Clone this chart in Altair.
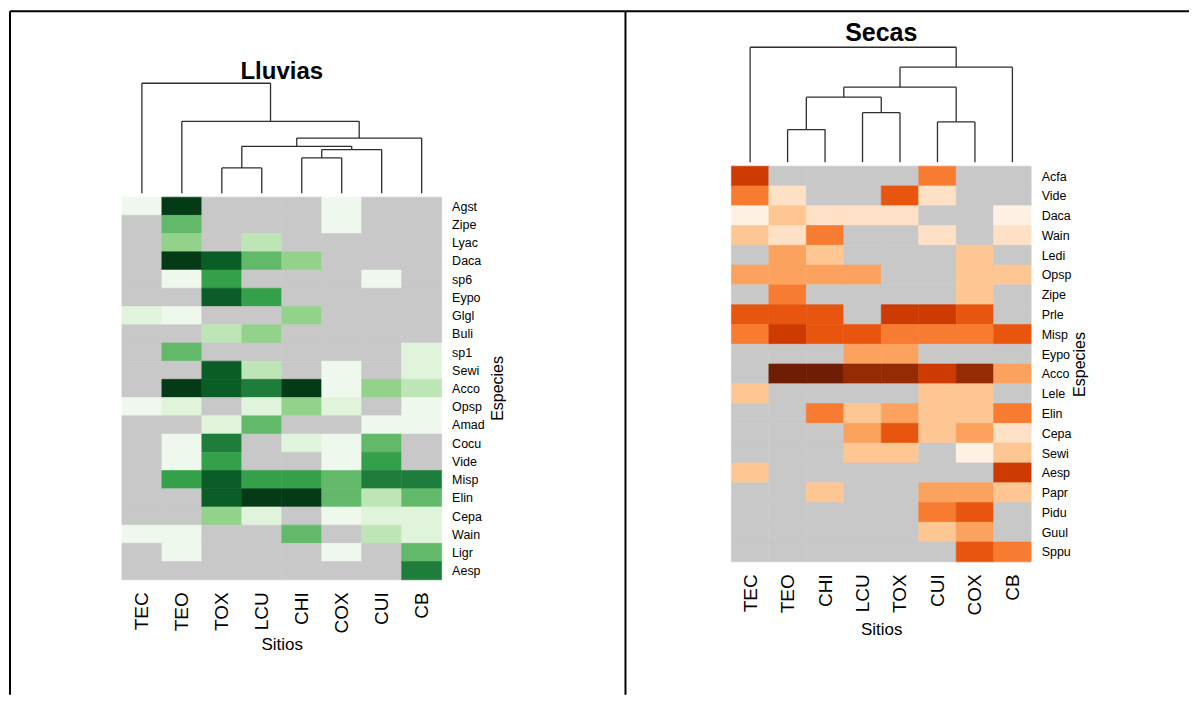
import json
import altair as alt
import pandas as pd

# ---------------- Lluvias (rainy season) ----------------
ll_sites = ["TEC", "TEO", "TOX", "LCU", "CHI", "COX", "CUI", "CB"]
ll_species = ["Agst", "Zipe", "Lyac", "Daca", "sp6", "Eypo", "Glgl", "Buli", "sp1", "Sewi",
              "Acco", "Opsp", "Amad", "Cocu", "Vide", "Misp", "Elin", "Cepa", "Wain", "Ligr", "Aesp"]
ll_TEC = [1, 0, 0, 0, 0, 0, 2, 0, 0, 0, 0, 1, 0, 0, 0, 0, 0, 0, 1, 0, 0]
ll_TEO = [9, 5, 4, 9, 1, 0, 1, 0, 5, 0, 9, 2, 0, 1, 1, 6, 0, 0, 1, 1, 0]
ll_TOX = [0, 0, 0, 8, 6, 8, 0, 3, 0, 8, 8, 0, 2, 7, 6, 8, 8, 4, 0, 0, 0]
ll_LCU = [0, 0, 3, 5, 0, 6, 0, 4, 0, 3, 7, 2, 5, 0, 0, 6, 9, 2, 0, 0, 0]
ll_CHI = [0, 0, 0, 4, 0, 0, 4, 0, 0, 0, 9, 4, 0, 2, 0, 6, 9, 0, 5, 0, 0]
ll_COX = [1, 1, 0, 0, 0, 0, 0, 0, 0, 1, 1, 2, 0, 1, 1, 5, 5, 1, 0, 1, 0]
ll_CUI = [0, 0, 0, 0, 1, 0, 0, 0, 0, 0, 4, 0, 1, 5, 6, 7, 3, 2, 3, 0, 0]
ll_CB = [0, 0, 0, 0, 0, 0, 0, 0, 2, 2, 3, 1, 1, 0, 0, 7, 5, 2, 2, 5, 7]
# dendrogram merges (leaf ids 0-7 in display order, internal nodes 8+)
ll_merge_a = [2, 4, 9, 8, 11, 1, 0]
ll_merge_b = [3, 5, 6, 10, 7, 12, 13]
ll_merge_h = [0.229, 0.320, 0.396, 0.426, 0.501, 0.653, 1.0]

# ---------------- Secas (dry season) ----------------
se_sites = ["TEC", "TEO", "CHI", "LCU", "TOX", "CUI", "COX", "CB"]
se_species = ["Acfa", "Vide", "Daca", "Wain", "Ledi", "Opsp", "Zipe", "Prle", "Misp", "Eypo",
              "Acco", "Lele", "Elin", "Cepa", "Sewi", "Aesp", "Papr", "Pidu", "Guul", "Sppu"]
se_TEC = [7, 5, 1, 3, 0, 4, 0, 6, 5, 0, 0, 3, 0, 0, 0, 3, 0, 0, 0, 0]
se_TEO = [0, 2, 3, 2, 4, 4, 5, 6, 7, 0, 9, 0, 0, 0, 0, 0, 0, 0, 0, 0]
se_CHI = [0, 0, 2, 5, 3, 4, 0, 6, 6, 0, 9, 0, 5, 0, 0, 0, 3, 0, 0, 0]
se_LCU = [0, 0, 2, 0, 0, 4, 0, 0, 6, 4, 8, 0, 3, 4, 3, 0, 0, 0, 0, 0]
se_TOX = [0, 6, 2, 0, 0, 0, 0, 7, 5, 4, 8, 0, 4, 6, 3, 0, 0, 0, 0, 0]
se_CUI = [5, 2, 0, 2, 0, 0, 0, 7, 5, 0, 7, 3, 3, 3, 0, 0, 4, 5, 3, 0]
se_COX = [0, 0, 0, 0, 3, 3, 3, 6, 5, 0, 8, 3, 3, 4, 1, 0, 4, 6, 4, 6]
se_CB = [0, 0, 1, 2, 0, 3, 0, 0, 6, 0, 4, 0, 5, 2, 3, 7, 3, 0, 0, 5]
se_merge_a = [1, 3, 5, 8, 11, 12, 0]
se_merge_b = [2, 4, 6, 9, 10, 7, 13]
se_merge_h = [0.284, 0.431, 0.350, 0.566, 0.653, 0.827, 1.0]

GRAY = "#c8c8c8"
greens = [GRAY, "#eff8ec", "#e0f3db", "#bde5b5", "#93d28b", "#62b96a",
          "#35a04a", "#1e7d3a", "#0b5d27", "#043a15"]
oranges = [GRAY, "#fef1e4", "#fde0c5", "#fdc692", "#fca25f", "#f77b31",
           "#e8550f", "#cd3b03", "#952b04", "#6f1d05"]

NOVIEW = alt.ViewBackground(stroke="transparent", strokeWidth=0)


def heat_df(sites, species, cols, key):
    rows = []
    for j, s in enumerate(sites):
        for i, sp in enumerate(species):
            rows.append({"site": s, "species": sp, "x": j, "x2": j + 1,
                         "y": i, "y2": i + 1, key: cols[j][i]})
    return pd.DataFrame(rows)


def dendro_df(ma, mb, mh, n):
    xpos = {i: i + 0.5 for i in range(n)}
    hpos = {i: 0.0 for i in range(n)}
    segs = []
    for k, (a, b, h) in enumerate(zip(ma, mb, mh)):
        node = n + k
        xa, xb = xpos[a], xpos[b]
        segs.append({"x": xa, "x2": xa, "h": hpos[a], "h2": h})
        segs.append({"x": xb, "x2": xb, "h": hpos[b], "h2": h})
        segs.append({"x": xa, "x2": xb, "h": h, "h2": h})
        xpos[node] = (xa + xb) / 2
        hpos[node] = h
    return pd.DataFrame(segs)


def panel(sites, species, cols, key, ma, mb, mh, colors, title, width, height,
          ydom, hdom, title_size, title_offset, esp_x, esp_y, sit_y):
    n = len(sites)
    hd = heat_df(sites, species, cols, key)
    dd = dendro_df(ma, mb, mh, n)
    xlab = "%s[floor(datum.value)]" % json.dumps(sites)
    ylab = "%s[floor(datum.value)]" % json.dumps(species)
    xaxis = alt.Axis(values=[j + 0.5 for j in range(n)], labelExpr=xlab, labelAngle=270,
                     labelAlign="right", labelBaseline="middle", labelPadding=12,
                     labelFontSize=19, labelColor="black", labelFlush=False, labelOverlap=False,
                     ticks=False, domain=False, grid=False, title="Sitios",
                     titleFontSize=17, titleFontWeight="normal", titleColor="black",
                     titleY=sit_y, titleBaseline="middle")
    xscale = alt.Scale(domain=[0, n], nice=False, zero=False)
    cscale = alt.Scale(domain=list(range(10)), range=colors)
    heat = alt.Chart(hd).mark_rect(strokeWidth=0.6).encode(
        x=alt.X("x:Q", scale=xscale, axis=xaxis),
        x2="x2:Q",
        y=alt.Y("y:Q", scale=alt.Scale(domain=ydom, reverse=True, nice=False, zero=False),
                axis=alt.Axis(orient="right", values=[i + 0.5 for i in range(len(species))],
                              labelExpr=ylab, ticks=False, domain=False, grid=False,
                              labelPadding=10, labelFontSize=12.5, labelColor="black",
                              labelAlign="left", labelBaseline="middle", labelFlush=False,
                              labelOverlap=False, title="Especies", titleAngle=270,
                              titleFontSize=16, titleFontWeight="normal", titleColor="black",
                              titleX=esp_x, titleY=esp_y, titleAlign="center",
                              titleBaseline="middle")),
        y2="y2:Q",
        color=alt.Color(key + ":O", scale=cscale, legend=None),
        stroke=alt.Stroke(key + ":O", scale=cscale, legend=None),
    )
    dend = alt.Chart(dd).mark_rule(color="#2e2e2e", strokeWidth=1.3).encode(
        x=alt.X("x:Q", scale=xscale, axis=xaxis),
        x2="x2:Q",
        y=alt.Y("h:Q", scale=alt.Scale(domain=hdom, nice=False, zero=False), axis=None),
        y2="h2:Q",
    )
    ch = alt.layer(heat, dend).resolve_scale(y="independent").properties(
        width=width, height=height, view=NOVIEW,
        title=alt.TitleParams(text=title, font="Liberation Sans", fontSize=title_size,
                              fontWeight="bold", anchor="middle", frame="group",
                              baseline="alphabetic", offset=title_offset, color="black"),
    )
    return ch


left = panel(ll_sites, ll_species,
             [ll_TEC, ll_TEO, ll_TOX, ll_LCU, ll_CHI, ll_COX, ll_CUI, ll_CB], "lluvias",
             ll_merge_a, ll_merge_b, ll_merge_h, greens, "Lluvias", 320, 569,
             [-10.198, 21], [-3.518, 1.6545], 24, -93,
             56, 377, 65)
right = panel(se_sites, se_species,
              [se_TEC, se_TEO, se_CHI, se_LCU, se_TOX, se_CUI, se_COX, se_CB], "secas",
              se_merge_a, se_merge_b, se_merge_h, oranges, "Secas", 300, 551,
              [-7.828, 20], [-3.478, 1.313], 25, -55,
              48, 353, 68)

# table frame lines (decoration)
one = pd.DataFrame({"k": [0]})
frame_top = alt.Chart(one).mark_rule(color="black", strokeWidth=2).encode(
    x=alt.value(-112), x2=alt.value(1068), y=alt.value(0))
frame_left = alt.Chart(one).mark_rule(color="black", strokeWidth=2).encode(
    x=alt.value(-112), y=alt.value(0), y2=alt.value(684))
frame_mid = alt.Chart(one).mark_rule(color="black", strokeWidth=2).encode(
    x=alt.value(504), y=alt.value(0), y2=alt.value(684))

left_all = alt.layer(left, frame_top, frame_left, frame_mid).properties(view=NOVIEW)

chart = alt.hconcat(left_all, right, spacing=290, bounds="flush").resolve_scale(
    color="independent", stroke="independent"
).properties(
    padding={"left": 1, "top": 2, "right": 0, "bottom": 0}
).configure_view(stroke="transparent", strokeWidth=0).configure(
    font="Liberation Sans", background="white")

chart.save("out.html", embed_options={"renderer": "svg", "actions": False})
